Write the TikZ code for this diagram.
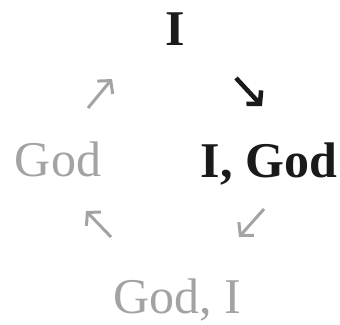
\documentclass[tikz,border=0pt]{standalone}
\usepackage{fontspec}
\setmainfont{Liberation Serif}
\usetikzlibrary{arrows.meta}
\definecolor{ink}{HTML}{1A1A1A}
\definecolor{faded}{HTML}{A3A3A3}
\tikzset{
  word/.style={anchor=base, inner sep=0pt, font=\fontsize{50}{60}\selectfont},
  strongword/.style={word, text=ink, font=\fontsize{50}{60}\selectfont\bfseries},
  softword/.style={word, text=faded},
  strongarrow/.style={draw=ink, line width=4.5pt, -{Straight Barb[length=9pt,width=20pt,line width=4.5pt]}},
  softarrow/.style={draw=faded, line width=3pt, -{Straight Barb[length=9pt,width=20pt,line width=3pt]}}
}
\begin{document}
\begin{tikzpicture}[x=1pt,y=-1pt]
\useasboundingbox (0,0) rectangle (340,324);
\node[strongword] (top) at (175,45) {I};
\node[strongword] (right) at (269,177) {I, God};
\node[softword] (left) at (58,176) {God};
\node[softword] (bottom) at (177,313) {God, I};
\coordinate (a1s) at (236,78);
\coordinate (a1e) at (262,106);
\coordinate (a2s) at (264,209);
\coordinate (a2e) at (239,237);
\coordinate (a3s) at (111,237);
\coordinate (a3e) at (86,211);
\coordinate (a4s) at (88,108);
\coordinate (a4e) at (112,79);
\draw[strongarrow] (a1s) -- (a1e);
\draw[softarrow] (a2s) -- (a2e);
\draw[softarrow] (a3s) -- (a3e);
\draw[softarrow] (a4s) -- (a4e);
\end{tikzpicture}
\end{document}
